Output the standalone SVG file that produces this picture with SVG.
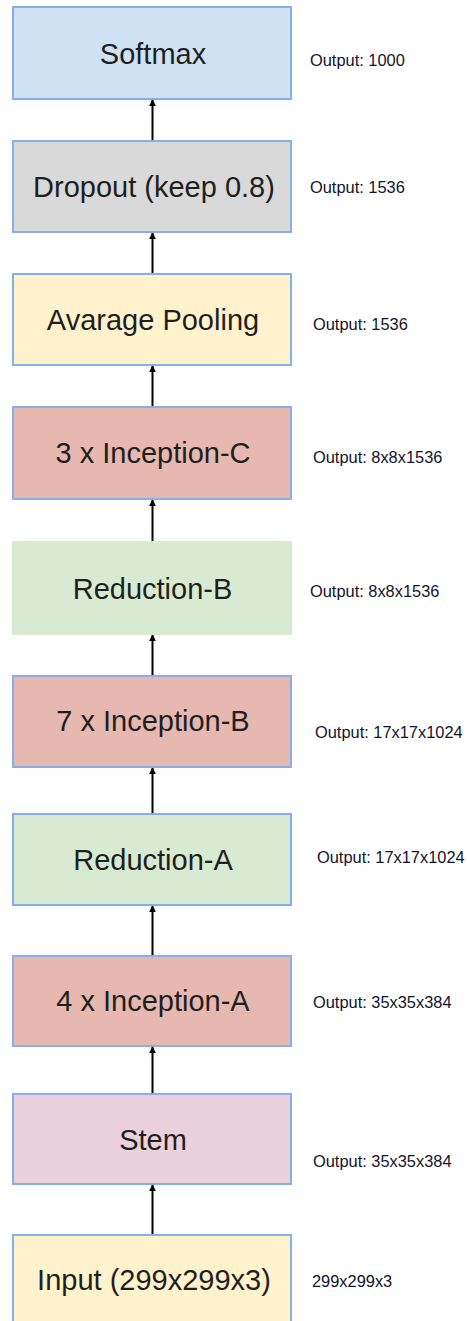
<svg xmlns="http://www.w3.org/2000/svg" width="467" height="1321" viewBox="0 0 467 1321">
<style>
.box{stroke:#86aeea;stroke-width:2}
.lbl{font-family:"Liberation Sans",Arial,sans-serif;font-size:29px;fill:#1f1f1f;text-anchor:middle}
.out{font-family:"Liberation Sans",Arial,sans-serif;font-size:16.4px;fill:#14142a}
.edge{stroke:#000;stroke-width:2;fill:none;marker-end:url(#ah)}
</style>
<defs>
<marker id="ah" viewBox="0 0 10 10" refX="9" refY="5" markerWidth="3.5" markerHeight="3.5" orient="auto" markerUnits="strokeWidth">
<path d="M0,0 L10,5 L0,10 z" fill="#000"/>
</marker>
</defs>
<rect width="467" height="1321" fill="#fff"/>
<g id="connectors">
<line class="edge" x1="152.5" y1="140" x2="152.5" y2="100"/>
<line class="edge" x1="152.5" y1="273" x2="152.5" y2="233"/>
<line class="edge" x1="152.5" y1="406" x2="152.5" y2="366"/>
<line class="edge" x1="152.5" y1="541" x2="152.5" y2="500"/>
<line class="edge" x1="152.5" y1="675" x2="152.5" y2="635"/>
<line class="edge" x1="152.5" y1="813" x2="152.5" y2="768"/>
<line class="edge" x1="152.5" y1="955" x2="152.5" y2="906"/>
<line class="edge" x1="152.5" y1="1093" x2="152.5" y2="1047"/>
<line class="edge" x1="152.5" y1="1234" x2="152.5" y2="1185"/>
</g>
<g id="softmax">
<rect class="box" x="13" y="7" width="278" height="92" fill="#cfe2f3"/>
<text class="lbl" x="153" y="64">Softmax</text>
<text class="out" x="310" y="66">Output: 1000</text>
</g>
<g id="dropout">
<rect class="box" x="13" y="141" width="278" height="91" fill="#d9d9d9"/>
<text class="lbl" x="154" y="197">Dropout (keep 0.8)</text>
<text class="out" x="310" y="193">Output: 1536</text>
</g>
<g id="avgpool">
<rect class="box" x="13" y="274" width="278" height="91" fill="#fff2cc"/>
<text class="lbl" x="153" y="330">Avarage Pooling</text>
<text class="out" x="313" y="330">Output: 1536</text>
</g>
<g id="inception-c">
<rect class="box" x="13" y="407" width="278" height="92" fill="#e6b8af"/>
<text class="lbl" x="153" y="463">3 x Inception-C</text>
<text class="out" x="313" y="463">Output: 8x8x1536</text>
</g>
<g id="reduction-b">
<rect x="12" y="541" width="280" height="94" fill="#d9ead3"/>
<text class="lbl" x="152.5" y="599">Reduction-B</text>
<text class="out" x="310" y="597">Output: 8x8x1536</text>
</g>
<g id="inception-b">
<rect class="box" x="13" y="676" width="278" height="91" fill="#e6b8af"/>
<text class="lbl" x="153" y="731">7 x Inception-B</text>
<text class="out" x="315" y="738">Output: 17x17x1024</text>
</g>
<g id="reduction-a">
<rect class="box" x="13" y="814" width="278" height="91" fill="#d9ead3"/>
<text class="lbl" x="153" y="870">Reduction-A</text>
<text class="out" x="317" y="863">Output: 17x17x1024</text>
</g>
<g id="inception-a">
<rect class="box" x="13" y="956" width="278" height="90" fill="#e6b8af"/>
<text class="lbl" x="153" y="1011">4 x Inception-A</text>
<text class="out" x="313" y="1008">Output: 35x35x384</text>
</g>
<g id="stem">
<rect class="box" x="13" y="1094" width="278" height="90" fill="#ead1dc"/>
<text class="lbl" x="153" y="1150">Stem</text>
<text class="out" x="313" y="1167">Output: 35x35x384</text>
</g>
<g id="input">
<rect class="box" x="13" y="1235" width="278" height="100" fill="#fff2cc"/>
<text class="lbl" x="154" y="1290">Input (299x299x3)</text>
<text class="out" x="312" y="1287">299x299x3</text>
</g>
</svg>
